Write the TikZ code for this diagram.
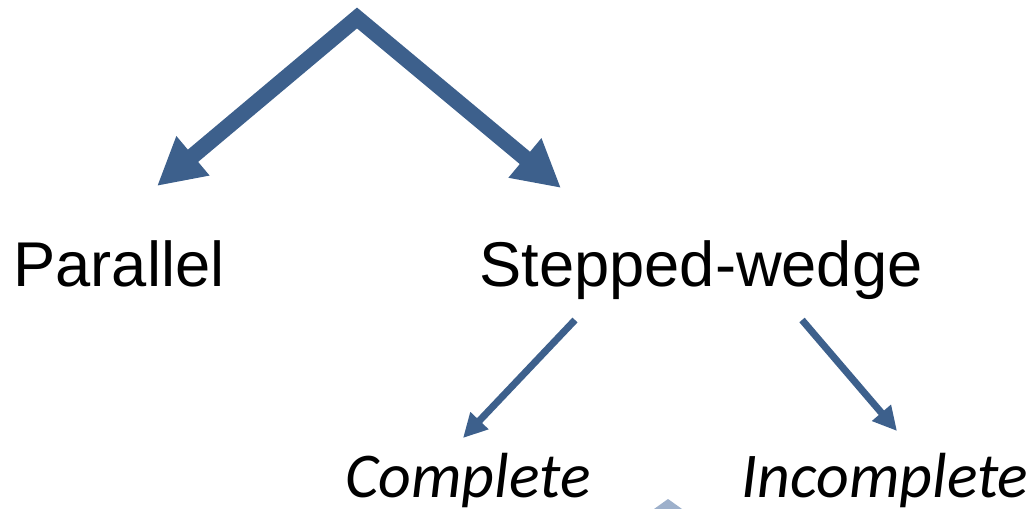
\documentclass[tikz,border=0pt]{standalone}
\usepackage{fontspec}
\setmainfont{Liberation Sans}
\newfontfamily\subfont{Carlito}
\usepackage{xcolor}
\definecolor{treeblue}{RGB}{61,96,140}
\definecolor{treepale}{RGB}{157,176,203}
\usetikzlibrary{arrows.meta}

\begin{document}
\begin{tikzpicture}[x=0.02cm, y=-0.02cm,
  bigarrow/.style={{Triangle[length=0.94cm, width=0.96cm]}-{Triangle[length=0.94cm, width=0.96cm]}, treeblue, line width=0.32cm, line join=miter},
  smallarrow/.style={-{Triangle[length=0.48cm, width=0.47cm]}, treeblue, line width=0.14cm},
  mainlabel/.style={anchor=base, inner sep=0pt, font=\fontsize{36}{42}\selectfont},
  sublabel/.style={anchor=base, inner sep=0pt, font=\subfont\itshape\fontsize{36.3}{42}\selectfont}]

\useasboundingbox (0,0) rectangle (1030,509);

\node[mainlabel] (parallel) at (119,287) {Parallel};
\node[mainlabel] (stepped) at (701,287) {Stepped-wedge};
\node[sublabel] (complete) at (468,497) {Complete};
\node[sublabel] (incomplete) at (885,497) {Incomplete};

\coordinate (apex) at (357,18);
\coordinate (ptip) at (157,186);
\coordinate (stip) at (561,188);
\coordinate (cstart) at (575,320);
\coordinate (ctip) at (463,438);
\coordinate (istart) at (802,320);
\coordinate (itip) at (897,431);

% Top split
\draw[bigarrow] (ptip) -- (apex) -- (stip);

% Stepped-wedge split
\draw[smallarrow] (cstart) -- (ctip);
\draw[smallarrow] (istart) -- (itip);

% shape cut off at the lower edge
\fill[treepale] (654,509) -- (668,499) -- (682,509) -- cycle;

\end{tikzpicture}
\end{document}
